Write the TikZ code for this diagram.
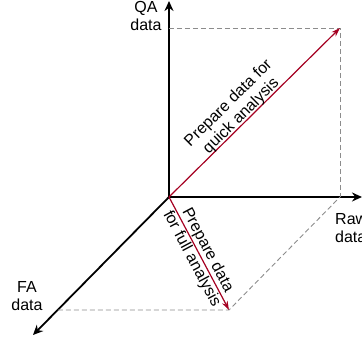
\documentclass[tikz,border=0pt]{standalone}
\usepackage{fontspec}
\setmainfont{Liberation Sans}
\usetikzlibrary{positioning, arrows.meta}

\definecolor{arrred}{RGB}{165,0,33}
\definecolor{guide}{RGB}{140,140,140}

\begin{document}
\begin{tikzpicture}[x=1pt, y=1pt,
  lbl/.style={align=center, text=black, font=\fontsize{16}{18}\selectfont, inner sep=0pt},
  axis/.style={line width=1.8pt, -{Stealth[length=10pt, width=9pt]}},
  arr/.style={arrred, line width=1.2pt, -{Stealth[length=9pt, width=6pt]}},
  guideline/.style={guide, line width=0.9pt, dash pattern=on 5pt off 3pt}]
\useasboundingbox (-169,-146) rectangle (193,197);
\coordinate (o) at (0,0);
\coordinate (ytip) at (0,196);
\coordinate (xtip) at (193,0);
\coordinate (ztip) at (-136,-138);
\coordinate (qa) at (0,169);
\coordinate (raw) at (171,0);
\coordinate (fa) at (-111,-113);
\coordinate (quick) at (171,169);
\coordinate (full) at (60,-113);
% axes
\draw[axis] (o) -- (ytip);
\draw[axis] (o) -- (xtip);
\draw[axis] (o) -- (ztip);
\node[lbl] (qalbl) at (-23,181) {QA\\data};
\node[lbl, align=left, anchor=west] (rawlbl) at (166,-31) {Raw\\data};
\node[lbl] (falbl) at (-142,-99) {FA\\data};
% projections
\draw[guideline] (qa) -- (quick) -- (raw);
\draw[guideline] (fa) -- (full) -- (raw);
% transformations
\draw[arr] (o) -- node[lbl, pos=0.45, sloped, above, yshift=-1.5pt] (quicklbl) {Prepare data for\\quick analysis} (quick);
\draw[arr] (o) -- node[lbl, pos=0.51, sloped] (fulllbl) {Prepare data\\for full analysis} (full);
\end{tikzpicture}
\end{document}
